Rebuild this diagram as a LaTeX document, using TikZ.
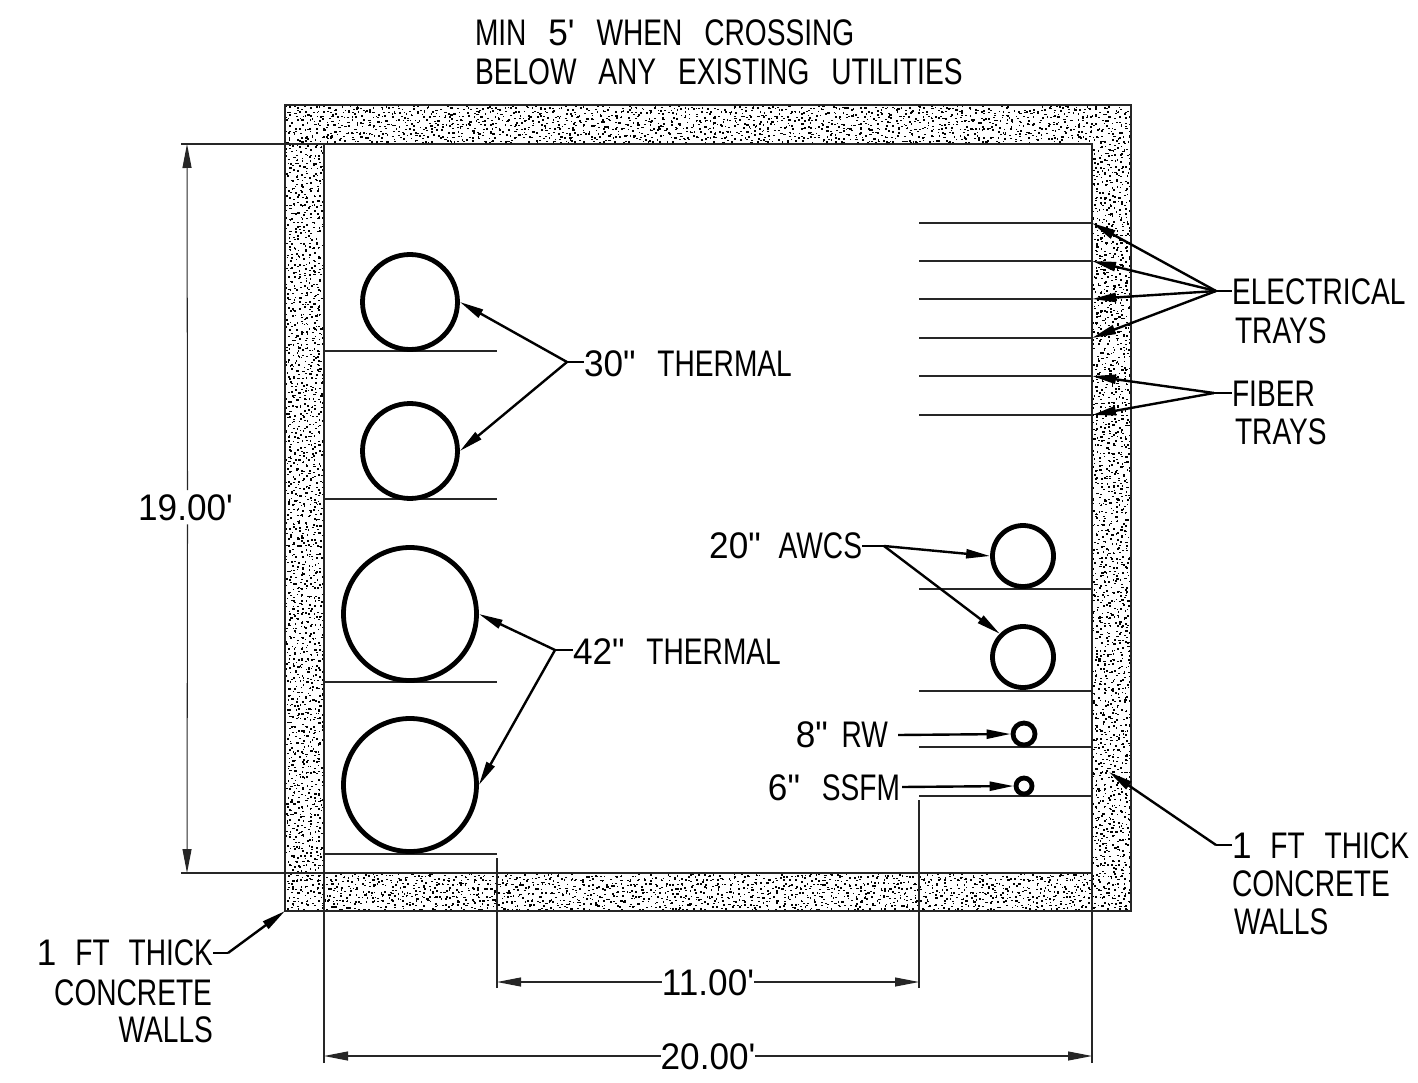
\documentclass[tikz,border=0pt]{standalone}
\usepackage{fontspec}
\newfontfamily\cadf[FakeStretch=0.76,WordSpace=2.8]{Liberation Sans}
\newfontfamily\cadd[FakeStretch=0.95,WordSpace=2.3]{Liberation Sans}
\usetikzlibrary{arrows.meta}
\tikzset{
  thinline/.style={line width=1.05pt,black!85},
  wallline/.style={line width=1.2pt,black!85},
  pipe/.style={circle,draw,line width=4.8pt,inner sep=0pt,fill=white},
  leader/.style={line width=2.4pt,-{Triangle[length=24pt,width=9pt]}},
  stub/.style={line width=2.4pt},
  dimline/.style={line width=1.05pt,black!85,-{Triangle[length=24pt,width=9pt]}},
  lbl/.style={inner sep=0pt,outer sep=0pt,font=\fontsize{37}{37}\cadf},
  lw/.style={lbl,anchor=base west},
  le/.style={lbl,anchor=base east},
  lnum/.style={lbl,anchor=base,font=\fontsize{37}{37}\cadd}
}
\newcommand{\stipple}[6]{% x0 x-second x1 y0 y-second y1
  \foreach \gx in {#1,#2,...,#3}{%
    \foreach \gy in {#4,#5,...,#6}{%
      \pgfmathsetmacro{\dx}{\gx+rnd*5.4}%
      \pgfmathsetmacro{\dy}{\gy+rnd*5.4}%
      \pgfmathsetmacro{\dw}{1.2+rnd*1.2}%
      \pgfpathrectangle{\pgfqpoint{\dx pt}{-\dy pt}}{\pgfqpoint{\dw pt}{1.5pt}}%
      \pgfusepath{fill}%
    }%
  }%
}
\begin{document}
\begin{tikzpicture}[x=1pt,y=-1pt]
\useasboundingbox (0,0) rectangle (1418,1083);
\pgfmathsetseed{4242}
% stipple of the concrete walls
\begin{scope}
\clip (285,105) rectangle (1131,144);
\stipple{284}{288.2}{1130}{104}{108.2}{143}
\end{scope}
\begin{scope}
\clip (285,873) rectangle (1131,911);
\stipple{284}{288.2}{1130}{872}{876.2}{910}
\end{scope}
\begin{scope}
\clip (285,144) rectangle (324,873);
\stipple{284}{288.2}{323}{143}{147.2}{872}
\end{scope}
\begin{scope}
\clip (1092,144) rectangle (1131,873);
\stipple{1091}{1095.2}{1130}{143}{147.2}{872}
\end{scope}
\draw[wallline] (285,105) rectangle (1131,911);
\draw[wallline] (324,144) rectangle (1092,873);
% named coordinates
\coordinate (dA) at (181,144); \coordinate (dAe) at (324,144);
\coordinate (dB) at (181,873); \coordinate (dBe) at (324,873);
\coordinate (tA) at (187,144); \coordinate (tB) at (187,873);
\coordinate (eL) at (324,1063); \coordinate (eLt) at (324,873);
\coordinate (eR) at (1092,1063); \coordinate (eRt) at (1092,873);
\coordinate (fL) at (497,988); \coordinate (fLt) at (497,858);
\coordinate (fR) at (919,988); \coordinate (fRt) at (919,800);
\coordinate (t20L) at (324,1056); \coordinate (t20R) at (1092,1056);
\coordinate (t11L) at (497,982); \coordinate (t11R) at (919,982);
% shelf lines
\foreach \n/\y in {a/351,b/499,c/682,d/854}{
  \coordinate (sl\n) at (324,\y); \coordinate (sr\n) at (497,\y);
  \draw[thinline] (sl\n) -- (sr\n);
}
\foreach \n/\y in {a/223,b/261,c/299,d/338,e/376,f/415,g/589,h/691,i/747,j/796}{
  \coordinate (tl\n) at (919,\y); \coordinate (tr\n) at (1092,\y);
  \draw[thinline] (tl\n) -- (tr\n);
}
% pipes
\node[pipe,minimum size=95pt] (p30a) at (410,302) {};
\node[pipe,minimum size=95pt] (p30b) at (410,451) {};
\node[pipe,minimum size=133pt] (p42a) at (410,614) {};
\node[pipe,minimum size=133pt] (p42b) at (410,785) {};
\node[pipe,minimum size=61pt] (p20a) at (1023,556) {};
\node[pipe,minimum size=61pt] (p20b) at (1023,657) {};
\node[pipe,minimum size=22pt] (p8) at (1024,734) {};
\node[pipe,minimum size=16pt] (p6) at (1024,786) {};
% labels
\node[lw] (top1) at (475,46) {MIN {\cadd 5'} WHEN CROSSING};
\node[lw] (top2) at (475,85) {BELOW ANY EXISTING UTILITIES};
\node[lw] (elec) at (1232,305) {ELECTRICAL};
\node[lw] (elec2) at (1235,343) {TRAYS};
\node[lw] (fib) at (1232,406) {FIBER};
\node[lw] (fib2) at (1235,444) {TRAYS};
\node[lw] (t30) at (584,376) {{\cadd 30"} THERMAL};
\node[lw] (t42) at (573,664) {{\cadd 42"} THERMAL};
\node[le] (awcs) at (862,558) {{\cadd 20"}\hspace{-4pt} AWCS};
\node[le] (rw) at (888,747) {{\cadd 8"}\hspace{-8pt} RW};
\node[le] (ssfm) at (900,800) {{\cadd 6"} SSFM};
\node[lw] (wr1) at (1232,858) {{\cadd 1}\hspace{-3pt} FT\hspace{-2pt} THICK};
\node[lw] (wr2) at (1232,896) {CONCRETE};
\node[lw] (wr3) at (1234,934) {WALLS};
\node[le] (wl1) at (213,965) {{\cadd 1}\hspace{-3pt} FT\hspace{-3pt} THICK};
\node[le] (wl2) at (212,1005) {CONCRETE};
\node[le] (wl3) at (213,1042) {WALLS};
% dimension lines
\draw[thinline] (dA) -- (dAe);
\draw[thinline] (dB) -- (dBe);
\draw[thinline] (eL) -- (eLt);
\draw[thinline] (eR) -- (eRt);
\draw[thinline] (fL) -- (fLt);
\draw[thinline] (fR) -- (fRt);
\node[lnum] (d19) at (185.5,520) {19.00'};
\node[lnum] (d11) at (708,995) {11.00'};
\node[lnum] (d20) at (708,1069) {20.00'};
\draw[dimline] (d19.north) ++(2,-4) coordinate (u19) (u19) -- (tA);
\draw[dimline] (d19.south) ++(2,4) coordinate (v19) (v19) -- (tB);
\draw[dimline] (d11.west |- t11L) -- (t11L);
\draw[dimline] (d11.east |- t11R) -- (t11R);
\draw[dimline] (d20.west |- t20L) -- (t20L);
\draw[dimline] (d20.east |- t20R) -- (t20R);
% leaders
\coordinate (kE) at (1216,291);
\coordinate (kF) at (1214,393);
\coordinate (k30) at (567,362);
\coordinate (k42) at (555,650);
\coordinate (kA) at (884,546);
\coordinate (kW) at (1216,845);
\coordinate (kL) at (228,953);
\coordinate (tW) at (1109,772);
\coordinate (tL) at (285,911);
\draw[stub] (kE) -- (kE -| elec.west);
\draw[stub] (kF) -- (kF -| fib.west);
\draw[stub] (k30) -- (k30 -| t30.west);
\draw[stub] (k42) -- (k42 -| t42.west);
\draw[stub] (kA) -- (kA -| awcs.east);
\draw[stub] (kW) -- (kW -| wr1.west);
\draw[stub] (kL) -- (kL -| wl1.east);
\foreach \n in {a,b,c,d} \draw[leader] (kE) -- (tr\n);
\foreach \n in {e,f} \draw[leader] (kF) -- (tr\n);
\draw[leader] (k30) -- (p30a.east);
\draw[leader] (k30) -- (p30b.east);
\draw[leader] (k42) -- (p42a.east);
\draw[leader] (k42) -- (p42b.east);
\draw[leader] (kA) -- (p20a.west);
\draw[leader] (kA) -- (p20b.135);
\draw[leader] (rw.east |- p8.west) ++(10,1) -- (p8.west);
\draw[leader] (ssfm.east |- p6.west) ++(2,1) -- (p6.west);
\draw[leader] (kW) -- (tW);
\draw[leader] (kL) -- (tL);
\end{tikzpicture}
\end{document}
